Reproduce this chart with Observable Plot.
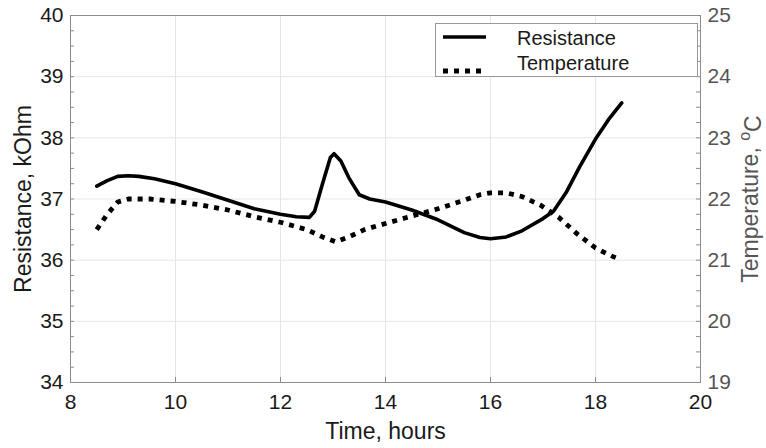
<!DOCTYPE html>
<html><head><meta charset="utf-8">
<script src="https://cdn.jsdelivr.net/npm/d3@7"></script>
<script src="https://cdn.jsdelivr.net/npm/@observablehq/plot@0.6"></script>
<style>
body{margin:0;background:#fff}
#wrap{position:relative;width:766px;height:448px;font-family:Arial,'Liberation Sans',sans-serif}
#legend{position:absolute;left:435px;top:23px}
</style>
</head><body><div id="wrap"></div>
<script>
// ---- data ----
const resHours  = [8.5, 8.7, 8.9, 9.1, 9.3, 9.6, 10.0, 10.5, 11.0, 11.5, 12.0, 12.3, 12.55, 12.65, 12.8, 12.95, 13.02, 13.15, 13.3, 13.5, 13.7, 14.0, 14.5, 15.0, 15.5, 15.8, 16.0, 16.3, 16.6, 17.0, 17.2, 17.45, 17.7, 18.0, 18.25, 18.5];
const resValues = [37.21, 37.30, 37.37, 37.38, 37.37, 37.33, 37.25, 37.12, 36.98, 36.84, 36.75, 36.71, 36.70, 36.80, 37.25, 37.68, 37.74, 37.62, 37.35, 37.07, 37.00, 36.95, 36.82, 36.66, 36.45, 36.37, 36.35, 36.38, 36.48, 36.68, 36.80, 37.12, 37.53, 37.98, 38.30, 38.57];
const tempHours  = [8.5, 8.7, 8.9, 9.1, 9.5, 10.0, 10.5, 11.0, 11.5, 12.0, 12.5, 12.8, 13.05, 13.3, 13.6, 14.0, 14.5, 15.0, 15.5, 15.8, 16.0, 16.3, 16.6, 16.95, 17.3, 17.65, 18.0, 18.3, 18.45];
const tempValues = [21.50, 21.75, 21.95, 22.00, 22.00, 21.96, 21.90, 21.82, 21.71, 21.62, 21.50, 21.38, 21.30, 21.38, 21.50, 21.60, 21.72, 21.84, 21.98, 22.07, 22.10, 22.10, 22.04, 21.90, 21.70, 21.43, 21.20, 21.07, 21.02];
const seriesNames = ["Resistance", "Temperature"];
const xTicks = [8, 10, 12, 14, 16, 18, 20];
const resTicks = [34, 35, 36, 37, 38, 39, 40];
const tempTicks = [19, 20, 21, 22, 23, 24, 25];
const xDomain = [8, 20];
const resDomain = [34, 40];
const tempDomain = [19, 25];
const minorStep = 0.25;

// temperature drawn against the left scale, shifted so the right axis lines up
const offset = resDomain[0] - tempDomain[0];
const res = resHours.map((h, i) => ({h, v: resValues[i]}));
const temp = tempHours.map((h, i) => ({h, v: tempValues[i] + offset}));
const minorY = d3.range(resDomain[0], resDomain[1] + 1e-9, minorStep);

const W = 766, H = 448, mL = 70, mR = 66, mT = 15, mB = 66;
const plotW = W - mL - mR, plotH = H - mT - mB;
const axisCol = "#8c8c8c";
const gridCol = "#e6e6e6";
const intFmt = d => String(Math.round(d));

const chart = Plot.plot({
  width: W, height: H,
  marginLeft: mL, marginRight: mR, marginTop: mT, marginBottom: mB,
  style: {fontFamily: "Arial, 'Liberation Sans', sans-serif", fontSize: "21px", color: "#1a1a1a", background: "#fff", overflow: "visible"},
  x: {domain: xDomain},
  y: {domain: resDomain},
  marks: [
    Plot.gridX(xTicks.slice(1, -1), {stroke: gridCol, strokeOpacity: 1}),
    Plot.gridY(resTicks.slice(1, -1), {stroke: gridCol, strokeOpacity: 1}),
    // inward tick marks
    Plot.tickX(xTicks, {x: d => d, stroke: axisCol, insetTop: plotH - 5}),
    Plot.tickY(minorY, {y: d => d, stroke: axisCol, insetRight: plotW - 4}),
    Plot.tickY(minorY, {y: d => d, stroke: axisCol, insetLeft: plotW - 4}),
    Plot.frame({stroke: axisCol}),
    // bottom axis
    Plot.axisX(xTicks, {anchor: "bottom", tickSize: 0, tickPadding: 12, fill: "#1a1a1a", tickFormat: intFmt,
      label: "Time, hours", labelAnchor: "center", labelOffset: 56, labelArrow: "none"}),
    // left axis
    Plot.axisY(resTicks, {anchor: "left", tickSize: 0, tickPadding: 7, fill: "#1a1a1a", tickFormat: intFmt,
      label: "Resistance, kOhm", labelAnchor: "center", labelOffset: 56, labelArrow: "none"}),
    // right axis (temperature)
    Plot.axisY(tempTicks.map(t => t + offset), {anchor: "right", tickSize: 0, tickPadding: 7, fill: "#555",
      tickFormat: d => String(Math.round(d - offset)),
      label: "Temperature, \u00B0C", labelAnchor: "center", labelOffset: 57, labelArrow: "none"}),
    // series
    Plot.line(res, {x: "h", y: "v", stroke: "#000", strokeWidth: 3.6, strokeLinejoin: "round"}),
    Plot.line(temp, {x: "h", y: "v", stroke: "#000", strokeWidth: 4.8, strokeDasharray: "5 6", strokeLinecap: "butt"})
  ]
});

// axis titles: bigger font, superscript degree "o"
d3.select(chart).selectAll("text").each(function () {
  const t = this.textContent;
  if (t === "Time, hours" || t === "Resistance, kOhm") d3.select(this).attr("font-size", 23);
  if (t === "Temperature, \u00B0C") {
    const s = d3.select(this).attr("font-size", 23);
    const first = this.querySelector("tspan");
    const host = first ? d3.select(first) : s;
    host.text(null);
    host.append("tspan").text("Temperature, ");
    host.append("tspan").attr("dy", "-0.5em").attr("font-size", 16).text("o");
    host.append("tspan").attr("dy", "0.5em").text("C");
  }
});

const wrap = document.getElementById("wrap");
wrap.appendChild(chart);

// legend box inside the plot area
const lw = 262, lh = 53;
const leg = d3.create("svg").attr("id", "legend").attr("width", lw + 1).attr("height", lh + 1);
leg.append("rect").attr("x", 0.5).attr("y", 0.5).attr("width", lw).attr("height", lh)
  .attr("fill", "#fff").attr("stroke", "#999");
const styles = [{w: 3.6, dash: null}, {w: 4.8, dash: "5 6"}];
seriesNames.forEach((name, i) => {
  const y = 14 + i * 34;
  leg.append("line").attr("x1", 8).attr("x2", 51).attr("y1", y).attr("y2", y)
    .attr("stroke", "#000").attr("stroke-width", styles[i].w)
    .attr("stroke-dasharray", styles[i].dash);
  leg.append("text").attr("x", 82).attr("y", 22 + i * 25).attr("font-size", 20)
    .attr("font-family", "Arial, 'Liberation Sans', sans-serif").attr("fill", "#1a1a1a").text(name);
});
wrap.appendChild(leg.node());
</script>
</body></html>
